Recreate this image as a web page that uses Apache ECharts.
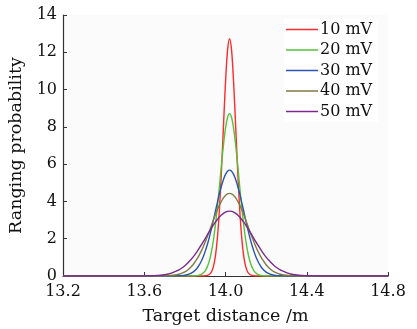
<!DOCTYPE html>
<html><head><meta charset="utf-8">
<script src="https://cdn.jsdelivr.net/npm/echarts@6/dist/echarts.min.js"></script>
<style>html,body{margin:0;padding:0;background:#fff}#c{width:417px;height:329px}</style>
</head><body><div id="c"></div>
<script>
const xValues = [13.20,13.60,13.62,13.64,13.66,13.68,13.70,13.72,13.74,13.76,13.78,13.80,13.82,13.84,
13.86,13.87,13.88,13.89,13.90,13.91,13.92,13.93,13.94,13.95,13.96,13.97,13.98,13.99,14.00,14.01,
14.02,
14.03,14.04,14.05,14.06,14.07,14.08,14.09,14.10,14.11,14.12,14.13,14.14,14.15,14.16,14.17,14.18,
14.20,14.22,14.24,14.26,14.28,14.30,14.32,14.34,14.36,14.38,14.40,14.42,14.44,14.80];

const mv10 = [0,0,0,0,0,0,0,0,0,0,0,0,0,0,
0,0,0,0,0.01,0.03,0.08,0.20,0.49,1.04,2.03,3.55,5.63,8.04,10.38,12.10,
12.73,
12.10,10.38,8.04,5.63,3.55,2.03,1.04,0.49,0.20,0.08,0.03,0.01,0,0,0,0,
0,0,0,0,0,0,0,0,0,0,0,0,0,0];

const mv20 = [0,0,0,0,0,0,0,0,0,0,0,0,0,0,
0.02,0.04,0.08,0.16,0.28,0.49,0.80,1.26,1.89,2.71,3.69,4.80,5.95,7.03,7.92,8.50,
8.71,
8.50,7.92,7.03,5.95,4.80,3.69,2.71,1.89,1.26,0.80,0.49,0.28,0.16,0.08,0.04,0.02,
0,0,0,0,0,0,0,0,0,0,0,0,0,0];

const mv30 = [0,0,0,0,0,0,0,0,0,0.01,0.02,0.04,0.10,0.21,
0.42,0.58,0.78,1.02,1.32,1.66,2.06,2.50,2.97,3.46,3.94,4.41,4.83,5.18,5.45,5.62,
5.68,
5.62,5.45,5.18,4.83,4.41,3.94,3.46,2.97,2.50,2.06,1.66,1.32,1.02,0.78,0.58,0.42,
0.21,0.10,0.04,0.02,0.01,0,0,0,0,0,0,0,0,0];

const mv40 = [0,0,0,0,0,0,0.01,0.02,0.04,0.07,0.13,0.22,0.38,0.60,
0.92,1.11,1.32,1.56,1.82,2.10,2.39,2.69,2.99,3.28,3.55,3.80,4.01,4.19,4.32,4.40,
4.43,
4.40,4.32,4.19,4.01,3.80,3.55,3.28,2.99,2.69,2.39,2.10,1.82,1.56,1.32,1.11,0.92,
0.60,0.38,0.22,0.13,0.07,0.04,0.02,0.01,0,0,0,0,0,0];

const mv50 = [0,0.00,0.01,0.01,0.03,0.04,0.07,0.11,0.18,0.27,0.39,0.55,0.76,1.01,
1.31,1.48,1.65,1.83,2.01,2.20,2.38,2.56,2.73,2.89,3.03,3.16,3.27,3.36,3.43,3.47,
3.48,
3.47,3.43,3.36,3.27,3.16,3.03,2.89,2.73,2.56,2.38,2.20,2.01,1.83,1.65,1.48,1.31,
1.01,0.76,0.55,0.39,0.27,0.18,0.11,0.07,0.04,0.03,0.01,0.01,0.00,0];

const seriesNames = ['10 mV','20 mV','30 mV','40 mV','50 mV'];
const seriesData = [mv10, mv20, mv30, mv40, mv50];
const colors = ['#ff2a2a','#55c23a','#2a55b0','#807a42','#7a2a8c'];

const font = 'DejaVu Serif';
const chart = echarts.init(document.getElementById('c'), null, {renderer:'canvas'});
chart.setOption({
  animation:false,
  backgroundColor:'#ffffff',
  grid:{left:63, right:29, top:15, bottom:53, show:true, backgroundColor:'#fbfbfb', borderWidth:0,
        containLabel:false, outerBoundsMode:'none'},
  legend:{
    orient:'vertical', left:284, top:19,
    icon:'rect', itemWidth:32, itemHeight:1.5, itemGap:3.5,
    backgroundColor:'#ffffff',
    padding:[2,6,2,2],
    textStyle:{fontFamily:font, fontSize:16, color:'#111', lineHeight:17, padding:[0,0,0,-3]},
    data:seriesNames
  },
  xAxis:{
    type:'value', min:13.2, max:14.8, interval:0.4,
    name:'Target distance /m', nameLocation:'middle', nameGap:31,
    nameTextStyle:{fontFamily:font, fontSize:17.5, color:'#111'},
    axisLine:{show:true, lineStyle:{color:'#333', width:1.2}},
    axisTick:{show:true, inside:true, length:4, lineStyle:{color:'#333'}},
    axisLabel:{fontFamily:font, fontSize:16, color:'#111', margin:8, formatter:v=>v.toFixed(1)},
    splitLine:{show:false}
  },
  yAxis:{
    type:'value', min:0, max:14, interval:2,
    name:'Ranging probability', nameLocation:'middle', nameGap:36,
    nameTextStyle:{fontFamily:font, fontSize:17.5, color:'#111'},
    axisLine:{show:true, lineStyle:{color:'#333', width:1.2}},
    axisTick:{show:true, inside:true, length:4, lineStyle:{color:'#333'}},
    axisLabel:{fontFamily:font, fontSize:16, color:'#111', margin:6},
    splitLine:{show:false}
  },
  series: seriesNames.map((n,i)=>({
    name:n, type:'line', symbol:'none', smooth:0.3,
    color:colors[i],
    lineStyle:{width:1.4, color:colors[i]},
    data: xValues.map((x,j)=>[x, seriesData[i][j]])
  }))
});
</script></body></html>
